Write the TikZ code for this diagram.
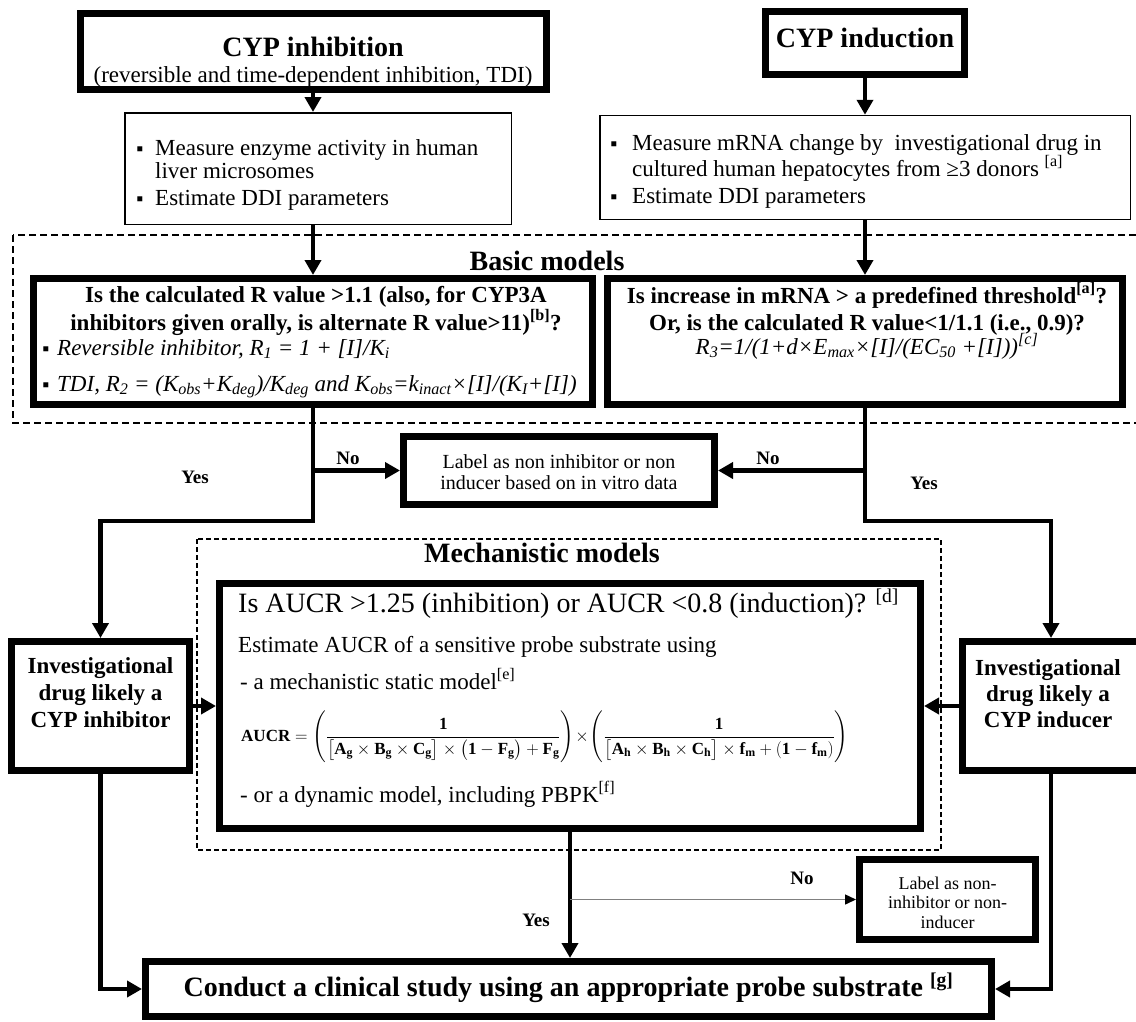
\documentclass[tikz,border=0pt]{standalone}
\usepackage{amsmath}
\usepackage{fontspec}
\setmainfont{Liberation Serif}
\usetikzlibrary{arrows.meta}
\newcommand{\myfs}[2]{\fontsize{#1}{#2}\selectfont}
\begin{document}
\begin{tikzpicture}[x=1pt,y=-1pt,
  thickbox/.style={draw, line width=7pt, inner sep=0pt},
  thinbox/.style={draw, line width=1.5pt, inner sep=0pt},
  conn/.style={line width=4.5pt, -{Triangle[length=15pt,width=16pt]}},
  body/.style={inner sep=0pt, font={\myfs{23}{27}}},
  bbody/.style={inner sep=0pt, font={\myfs{23}{27}\bfseries}},
  ibody/.style={inner sep=0pt, font={\myfs{23}{27}\itshape}},
  head/.style={inner sep=0pt, font={\myfs{28}{32}\bfseries}},
  yn/.style={inner sep=0pt, font={\myfs{19}{22}\bfseries}, anchor=base},
  bul/.style={inner sep=0pt, font={\myfs{20}{24}}, anchor=base},
  basicdash/.style={draw, line width=1.6pt, dash pattern=on 7pt off 4pt},
  mechdash/.style={draw, line width=1.2pt, dash pattern=on 5pt off 3pt},
]
\useasboundingbox (0,0) rectangle (1136,1021);

% dashed groups
\draw[basicdash] (13,235) rectangle (1140,423);
\draw[mechdash] (197,539) rectangle (941,850);

% boxes
\node[thickbox, minimum width=466pt, minimum height=76pt] (inh) at (313,51.5) {};
\node[thickbox, minimum width=199pt, minimum height=63pt] (ind) at (865,43) {};
\node[thinbox, minimum width=386.5pt, minimum height=111.5pt] (m1) at (318,168.5) {};
\node[thinbox, minimum width=530.5pt, minimum height=104pt] (m2) at (865,167.5) {};
\node[thickbox, minimum width=559pt, minimum height=126pt] (Rl) at (313,341.5) {};
\node[thickbox, minimum width=515pt, minimum height=126pt] (Rr) at (865,341.5) {};
\node[thickbox, minimum width=311pt, minimum height=68pt] (lab1) at (559,470.5) {};
\node[thickbox, minimum width=178pt, minimum height=129pt] (inhib) at (100.5,706) {};
\node[thickbox, minimum width=177.5pt, minimum height=129pt] (induc) at (1051,706) {};
\node[thickbox, minimum width=701pt, minimum height=245pt] (aucr) at (570,706) {};
\node[thickbox, minimum width=176pt, minimum height=80pt] (lab2) at (947.5,899.5) {};
\node[thickbox, minimum width=846pt, minimum height=55pt] (conduct) at (568.5,989) {};

% texts: top boxes
\node[head, anchor=base] (tinh1) at (313,56) {CYP inhibition};
\node[body, anchor=base] (tinh2) at (313,82) {(reversible and time-dependent inhibition, TDI)};
\node[head, anchor=base] (tind) at (865,47) {CYP induction};

% measure boxes
\node[bul] (b1) at (140,155) {▪};
\node[body, anchor=base west] (m1a) at (155,155) {Measure enzyme activity in human};
\node[body, anchor=base west] (m1b) at (155,178) {liver microsomes};
\node[bul] (b2) at (140,205) {▪};
\node[body, anchor=base west] (m1c) at (155,205) {Estimate DDI parameters};

\node[bul] (b3) at (614,150) {▪};
\node[body, anchor=base west] (m2a) at (632,150) {Measure mRNA change by~ investigational drug in};
\node[body, anchor=base west] (m2b) at (632,176) {cultured human hepatocytes from ≥3 donors \textsuperscript{[a]}};
\node[bul] (b4) at (614,203) {▪};
\node[body, anchor=base west] (m2c) at (632,203) {Estimate DDI parameters};

% basic models
\node[head, anchor=base] (tbasic) at (547,270) {Basic models};
\node[bbody, anchor=base] (rl1) at (316,302) {Is the calculated R value >1.1 (also, for CYP3A};
\node[bbody, anchor=base] (rl2) at (316,330) {inhibitors given orally, is alternate R value>11)\textsuperscript{[b]}?};
\node[bul] (b5) at (46,355) {▪};
\node[ibody, anchor=base west] (rl3) at (57,355) {Reversible inhibitor, R\textsubscript{1} = 1 + [I]/K\textsubscript{i}};
\node[bul] (b6) at (46,391) {▪};
\node[ibody, anchor=base west] (rl4) at (57,391) {TDI, R\textsubscript{2} = (K\textsubscript{obs}+K\textsubscript{deg})/K\textsubscript{deg} and K\textsubscript{obs}=k\textsubscript{inact}×[I]/(K\textsubscript{I}+[I])};

\node[bbody, anchor=base] (rr1) at (867,303) {Is increase in mRNA > a predefined threshold\textsuperscript{[a]}?};
\node[bbody, anchor=base] (rr2) at (867,330) {Or, is the calculated R value<1/1.1 (i.e., 0.9)?};
\node[ibody, anchor=base] (rr3) at (867,354) {R\textsubscript{3}=1/(1+d×E\textsubscript{max}×[I]/(EC\textsubscript{50} +[I]))\textsuperscript{[c]}};

% label 1
\node[inner sep=0pt, font={\myfs{20}{21}}, anchor=base] (l1a) at (559,468) {Label as non inhibitor or non};
\node[inner sep=0pt, font={\myfs{20}{21}}, anchor=base] (l1b) at (559,489) {inducer based on in vitro data};

% yes / no
\node[yn] (noL) at (348,464) {No};
\node[yn] (yesL) at (195,483) {Yes};
\node[yn] (noR) at (768,464) {No};
\node[yn] (yesR) at (924,489) {Yes};
\node[yn] (yesB) at (536,926) {Yes};
\node[yn] (noB) at (802,884) {No};

% inhibitor / inducer
\node[bbody, anchor=base] (ia) at (100.5,673) {Investigational};
\node[bbody, anchor=base] (ib) at (100.5,700) {drug likely a};
\node[bbody, anchor=base] (ic) at (100.5,727) {CYP inhibitor};
\node[bbody, anchor=base] (ja) at (1048,675) {Investigational};
\node[bbody, anchor=base] (jb) at (1048,701) {drug likely a};
\node[bbody, anchor=base] (jc) at (1048,727) {CYP inducer};

% mechanistic
\node[head, anchor=base] (tmech) at (542,562) {Mechanistic models};
\node[inner sep=0pt, font={\myfs{28}{32}}, anchor=base west] (a1) at (238,612) {Is AUCR >1.25 (inhibition) or AUCR <0.8 (induction)? \textsuperscript{[d]}};
\node[body, anchor=base west] (a2) at (238,652) {Estimate AUCR of a sensitive probe substrate using};
\node[body, anchor=base west] (a3) at (240,689) {- a mechanistic static model\textsuperscript{[e]}};
\node[inner sep=0pt, font={\myfs{17}{21}}, anchor=west] (a4) at (241,737)
 {$\mathbf{AUCR}=\Biggl(\dfrac{\mathbf{1}}{\bigl[\mathbf{A}_{\mathbf{g}}\times\mathbf{B}_{\mathbf{g}}\times\mathbf{C}_{\mathbf{g}}\bigr]\times\bigl(\mathbf{1}-\mathbf{F}_{\mathbf{g}}\bigr)+\mathbf{F}_{\mathbf{g}}}\Biggr)\!\times\!\Biggl(\dfrac{\mathbf{1}}{\bigl[\mathbf{A}_{\mathbf{h}}\times\mathbf{B}_{\mathbf{h}}\times\mathbf{C}_{\mathbf{h}}\bigr]\times\mathbf{f}_{\mathbf{m}}+(\mathbf{1}-\mathbf{f}_{\mathbf{m}})}\Biggr)$};
\node[body, anchor=base west] (a5) at (240,802) {- or a dynamic model, including PBPK\textsuperscript{[f]}};

% label 2
\node[inner sep=0pt, font={\myfs{18}{21}}, anchor=base] (l2a) at (947.5,889) {Label as non-};
\node[inner sep=0pt, font={\myfs{18}{21}}, anchor=base] (l2b) at (947.5,908) {inhibitor or non-};
\node[inner sep=0pt, font={\myfs{18}{21}}, anchor=base] (l2c) at (947.5,928) {inducer};

% conduct
\node[head, anchor=base] (tcond) at (568.5,996) {Conduct a clinical study using an appropriate probe substrate \textsuperscript{[g]}};

% junction coordinates
\coordinate (jl) at (313,521);
\coordinate (jr) at (865,521);

% connectors
\draw[conn] (inh.south) -- (inh.south |- m1.north);
\draw[conn] (ind.south) -- (m2.north);
\draw[conn] (Rl.north |- m1.south) -- (Rl.north);
\draw[conn] (m2.south) -- (Rr.north);
\draw[conn] (Rl.south) -- (jl) -| (inhib.north);
\draw[conn] (Rr.south) -- (jr) -| (induc.north);
\draw[conn] (Rl.south |- lab1.west) -- (lab1.west);
\draw[conn] (Rr.south |- lab1.east) -- (lab1.east);
\draw[conn] (inhib.east) -- (aucr.west |- inhib.east);
\draw[conn] (induc.west) -- (aucr.east |- induc.west);
\draw[conn] (aucr.south) -- (aucr.south |- conduct.north);
\draw[line width=1.5pt, gray, -{Triangle[length=11pt,width=10pt,color=black]}] (aucr.south |- lab2.west) -- (lab2.west);
\draw[conn] (inhib.south) |- (conduct.west);
\draw[conn] (induc.south) |- (conduct.east);
\end{tikzpicture}
\end{document}
